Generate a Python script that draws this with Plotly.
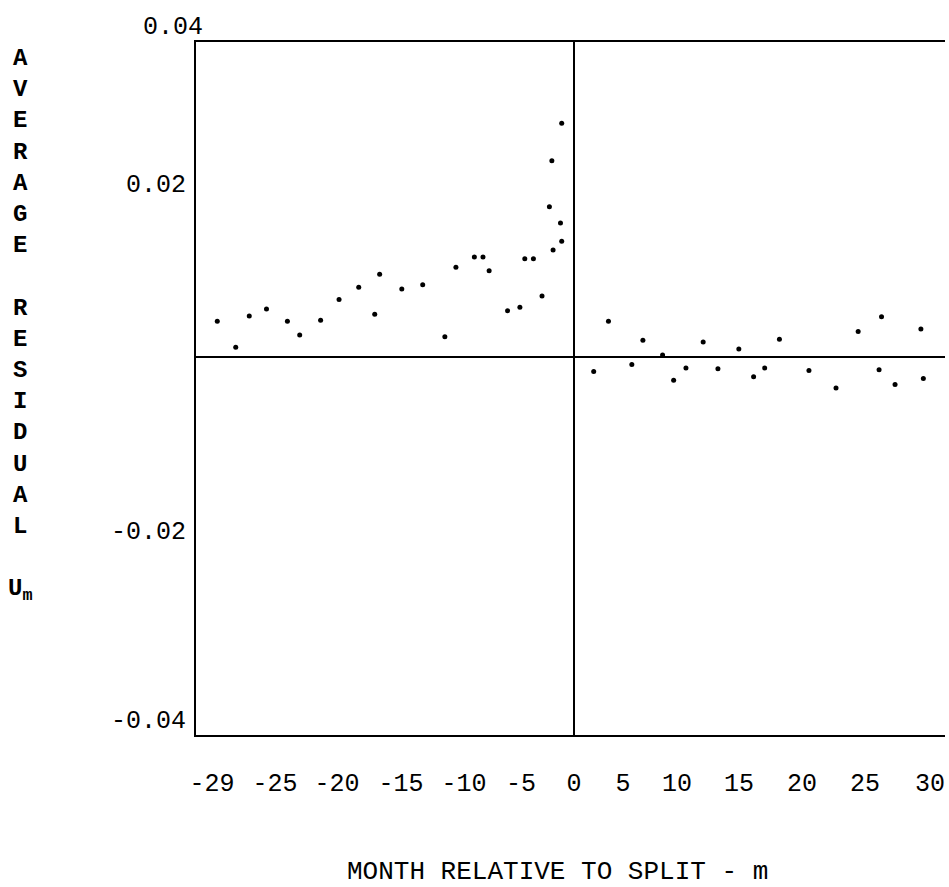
import plotly.graph_objects as go

# Average residuals U_m, months before the split
month_before = [-29.0, -27.5, -26.4, -25.0, -23.3, -22.3, -20.6, -19.1, -17.5, -16.2,
                -15.8, -14.0, -12.3, -10.5, -9.6, -8.1, -7.4, -6.9, -5.4, -4.4,
                -4.0, -3.3, -2.6, -2.0, -1.8, -1.7, -1.1, -1.0, -1.0]
resid_before = [0.0041, 0.0011, 0.0047, 0.0055, 0.0041, 0.0025, 0.0042, 0.0066, 0.0080, 0.0049,
                0.0095, 0.0078, 0.0083, 0.0023, 0.0103, 0.0115, 0.0115, 0.0099, 0.0053, 0.0057,
                0.0113, 0.0113, 0.0070, 0.0173, 0.0226, 0.0123, 0.0154, 0.0133, 0.0269]

# Average residuals U_m, months after the split
month_after = [1.6, 2.8, 4.7, 5.6, 7.2, 8.1, 9.1, 10.5, 11.7, 13.4, 14.6, 15.5, 16.7,
               19.1, 21.3, 23.1, 24.8, 25.0, 26.1, 28.2, 28.4]
resid_after = [-0.0017, 0.0041, -0.0009, 0.0019, 0.0002, -0.0027, -0.0013, 0.0017, -0.0014,
               0.0009, -0.0023, -0.0013, 0.0020, -0.0016, -0.0036, 0.0029, -0.0015, 0.0046,
               -0.0032, 0.0032, -0.0025]

# Tick labels as typed on the original figure (placed where they appear)
x_tick_text = ["-29", "-25", "-20", "-15", "-10", "-5", "0", "5", "10", "15", "20", "25", "30"]
x_tick_vals = [-29.43, -24.31, -19.27, -14.07, -8.94, -4.31, 0, 3.98, 8.37, 13.41, 18.54, 23.66, 28.94]
y_tick_text = ["0.02", "-0.02", "-0.04"]
y_tick_vals = [0.02, -0.02, -0.0418]

FONT = "Liberation Mono"

fig = go.Figure()
fig.add_trace(go.Scatter(
    x=month_before + month_after,
    y=resid_before + resid_after,
    mode="markers",
    marker=dict(color="black", size=5),
    showlegend=False,
    hoverinfo="x+y",
))

fig.update_layout(
    width=949, height=887,
    margin=dict(l=196, r=4, t=42, b=152),
    paper_bgcolor="white", plot_bgcolor="white",
    font=dict(family=FONT, color="black", size=25),
    xaxis=dict(
        range=[-30.73, 30.16],
        showgrid=False,
        showline=True, mirror=True, linecolor="black", linewidth=2,
        zeroline=True, zerolinecolor="black", zerolinewidth=2,
        tickvals=x_tick_vals, ticktext=x_tick_text,
        ticks="", ticklabelstandoff=24,
        tickfont=dict(family=FONT, size=25),
    ),
    yaxis=dict(
        range=[-0.04361, 0.03628],
        showgrid=False,
        showline=True, mirror=False, linecolor="black", linewidth=2,
        zeroline=True, zerolinecolor="black", zerolinewidth=2,
        tickvals=y_tick_vals, ticktext=y_tick_text,
        ticks="", ticklabelstandoff=3,
        tickfont=dict(family=FONT, size=25),
    ),
)

# "0.04" label, printed above the top border
fig.add_annotation(text="0.04", xref="paper", yref="paper",
                   x=-0.0307, y=1.0216, xanchor="center", yanchor="middle",
                   showarrow=False, font=dict(family=FONT, size=25))

# Vertical stacked y-axis title
ytitle = "<br>".join(list("AVERAGE") + [" "] + list("RESIDUAL") + [" "] + ["U<sub>m</sub>"])
fig.add_annotation(text=ytitle, xref="paper", yref="paper",
                   x=-0.235, y=0.5916, xanchor="center", yanchor="middle",
                   showarrow=False, align="center",
                   font=dict(family=FONT, size=24, weight="bold"))

# x-axis title
fig.add_annotation(text="MONTH RELATIVE TO SPLIT - m", xref="paper", yref="paper",
                   x=0.4826, y=-0.197, xanchor="center", yanchor="middle",
                   showarrow=False, font=dict(family=FONT, size=26))

fig.write_html("out.html")
